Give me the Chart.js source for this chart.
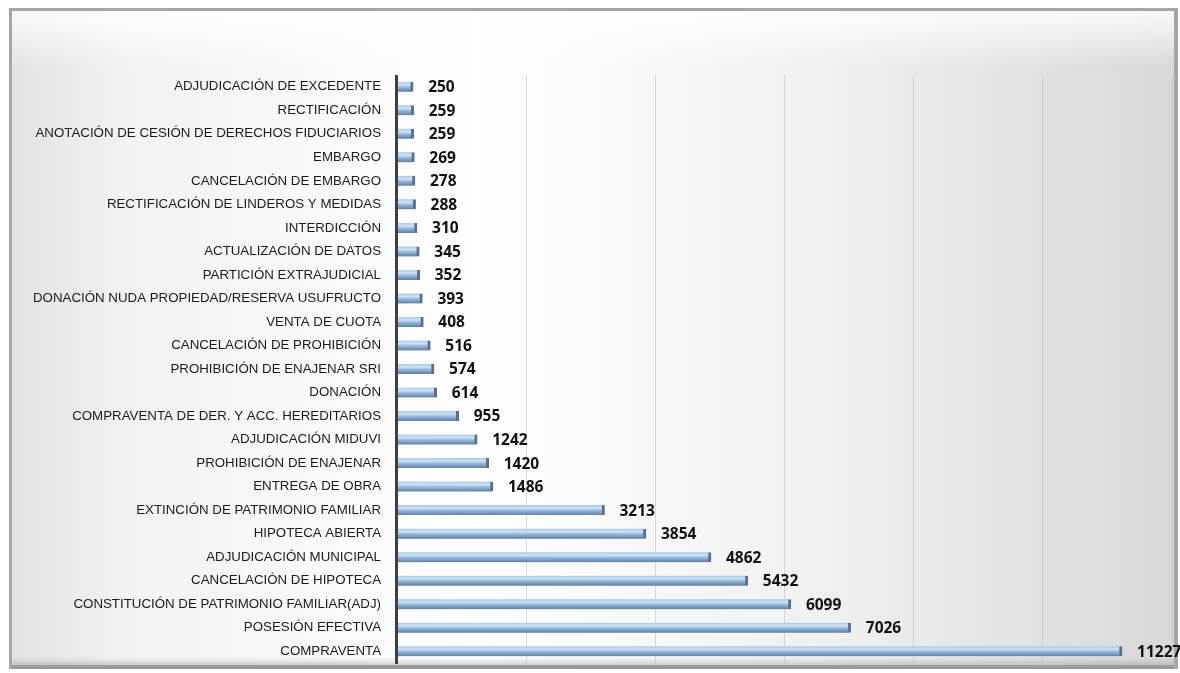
<!DOCTYPE html>
<html>
<head>
<meta charset="utf-8">
<script src="https://cdn.jsdelivr.net/npm/chart.js@4"></script>
<style>
  html, body { margin: 0; padding: 0; background: #fff; }
  #wrap { width: 1180px; height: 673px; position: relative; }
</style>
</head>
<body>
<div id="wrap"><canvas id="chart"></canvas></div>
<script>
// ── Data ─────────────────────────────────────────
const categories = [
  'ADJUDICACIÓN DE EXCEDENTE',
  'RECTIFICACIÓN',
  'ANOTACIÓN DE CESIÓN DE DERECHOS FIDUCIARIOS',
  'EMBARGO',
  'CANCELACIÓN DE EMBARGO',
  'RECTIFICACIÓN DE LINDEROS Y MEDIDAS',
  'INTERDICCIÓN',
  'ACTUALIZACIÓN DE DATOS',
  'PARTICIÓN EXTRAJUDICIAL',
  'DONACIÓN NUDA PROPIEDAD/RESERVA USUFRUCTO',
  'VENTA DE CUOTA',
  'CANCELACIÓN DE PROHIBICIÓN',
  'PROHIBICIÓN DE ENAJENAR SRI',
  'DONACIÓN',
  'COMPRAVENTA DE DER. Y ACC. HEREDITARIOS',
  'ADJUDICACIÓN MIDUVI',
  'PROHIBICIÓN DE ENAJENAR',
  'ENTREGA DE OBRA',
  'EXTINCIÓN DE PATRIMONIO FAMILIAR',
  'HIPOTECA ABIERTA',
  'ADJUDICACIÓN MUNICIPAL',
  'CANCELACIÓN DE HIPOTECA',
  'CONSTITUCIÓN DE PATRIMONIO FAMILIAR(ADJ)',
  'POSESIÓN EFECTIVA',
  'COMPRAVENTA',
];
const counts = [250, 259, 259, 269, 278, 288, 310, 345, 352, 393, 408, 516, 574, 614,
                955, 1242, 1420, 1486, 3213, 3854, 4862, 5432, 6099, 7026, 11227];
const xMax = 12000;
const xStep = 2000;

// ── Framed background ────────────────────────────
const framePlugin = {
  id: 'frame',
  beforeDraw(chart) {
    const c = chart.ctx;
    const x0 = 9, y0 = 8, x1 = 1178, y1 = 669;
    c.save();
    c.fillStyle = '#ffffff';
    c.fillRect(0, 0, chart.width, chart.height);
    // bevel border
    c.fillStyle = '#a6a6a6';
    c.fillRect(x0, y0, x1 - x0, y1 - y0);
    const g = c.createLinearGradient(x0, 0, x1, 0);
    g.addColorStop(0, '#e2e2e2');
    g.addColorStop(0.1, '#f2f2f2');
    g.addColorStop(0.4, '#ffffff');
    g.addColorStop(0.7, '#f0f0f0');
    g.addColorStop(1, '#d8d8d8');
    c.fillStyle = g;
    c.fillRect(x0 + 3, y0 + 3, x1 - x0 - 7, y1 - y0 - 7);
    // top highlight
    const t = c.createLinearGradient(0, y0, 0, y0 + 60);
    t.addColorStop(0, 'rgba(255,255,255,0.9)');
    t.addColorStop(1, 'rgba(255,255,255,0)');
    c.fillStyle = t;
    c.fillRect(x0 + 3, y0 + 3, x1 - x0 - 7, 60);
    // bottom shade
    const b = c.createLinearGradient(0, y1 - 12, 0, y1);
    b.addColorStop(0, 'rgba(160,160,160,0)');
    b.addColorStop(1, 'rgba(140,140,140,0.6)');
    c.fillStyle = b;
    c.fillRect(x0 + 3, y1 - 12, x1 - x0 - 7, 12);
    c.restore();
  },
  afterDatasetsDraw(chart) {
    // dark category axis line
    const a = chart.chartArea;
    const c = chart.ctx;
    c.save();
    c.fillStyle = '#404040';
    c.fillRect(a.left - 2, a.top, 3, a.bottom - a.top + 1);
    c.restore();
  },
};

// ── Value labels ─────────────────────────────────
const valueLabels = {
  id: 'valueLabels',
  afterDatasetsDraw(chart) {
    const c = chart.ctx;
    const meta = chart.getDatasetMeta(0);
    c.save();
    c.font = 'bold 15.5px "Open Sans", "Liberation Sans", sans-serif';
    c.fillStyle = '#111';
    c.textBaseline = 'middle';
    c.textAlign = 'left';
    meta.data.forEach((bar, i) => {
      c.fillText(String(counts[i]), bar.x + 15, bar.y + 1);
    });
    c.restore();
  },
};

function barFill(context) {
  const chart = context.chart;
  const yScale = chart.scales.y;
  if (!yScale || context.dataIndex === undefined) return '#9dc3e6';
  const yc = yScale.getPixelForValue(context.dataIndex);
  if (!isFinite(yc)) return '#9dc3e6';
  const g = chart.ctx.createLinearGradient(0, yc - 5, 0, yc + 5);
  g.addColorStop(0, '#a9c9e8');
  g.addColorStop(0.3, '#cfe2f5');
  g.addColorStop(0.55, '#94b9de');
  g.addColorStop(1, '#5f7f9f');
  return g;
}

new Chart(document.getElementById('chart'), {
  type: 'bar',
  data: {
    labels: categories,
    datasets: [{
      data: counts,
      backgroundColor: barFill,
      borderColor: '#5d7088',
      borderWidth: { top: 0, bottom: 0, left: 0, right: 3 },
      borderSkipped: false,
      barThickness: 10,
    }],
  },
  options: {
    indexAxis: 'y',
    responsive: true,
    maintainAspectRatio: false,
    animation: false,
    layout: { padding: { left: 0, right: 8, top: 75, bottom: 10 } },
    plugins: {
      legend: { display: false },
      tooltip: { enabled: false },
    },
    scales: {
      x: {
        min: 0,
        max: xMax,
        ticks: { display: false, stepSize: xStep },
        grid: { color: 'rgba(190,190,190,0.55)', drawTicks: false, lineWidth: 1 },
        border: { display: false },
        afterFit(scale) { scale.height = 0; scale.paddingLeft = 0; scale.paddingRight = 0; },
      },
      y: {
        ticks: {
          color: '#1a1a1a',
          font: { family: '"Liberation Sans", Arial, sans-serif', size: 13.3 },
          padding: 16,
          autoSkip: false,
        },
        grid: { display: false, drawTicks: false },
        border: { display: false },
        afterFit(scale) { scale.width = 397; scale.paddingTop = 0; scale.paddingBottom = 0; },
      },
    },
  },
  plugins: [framePlugin, valueLabels],
});
</script>
</body>
</html>
